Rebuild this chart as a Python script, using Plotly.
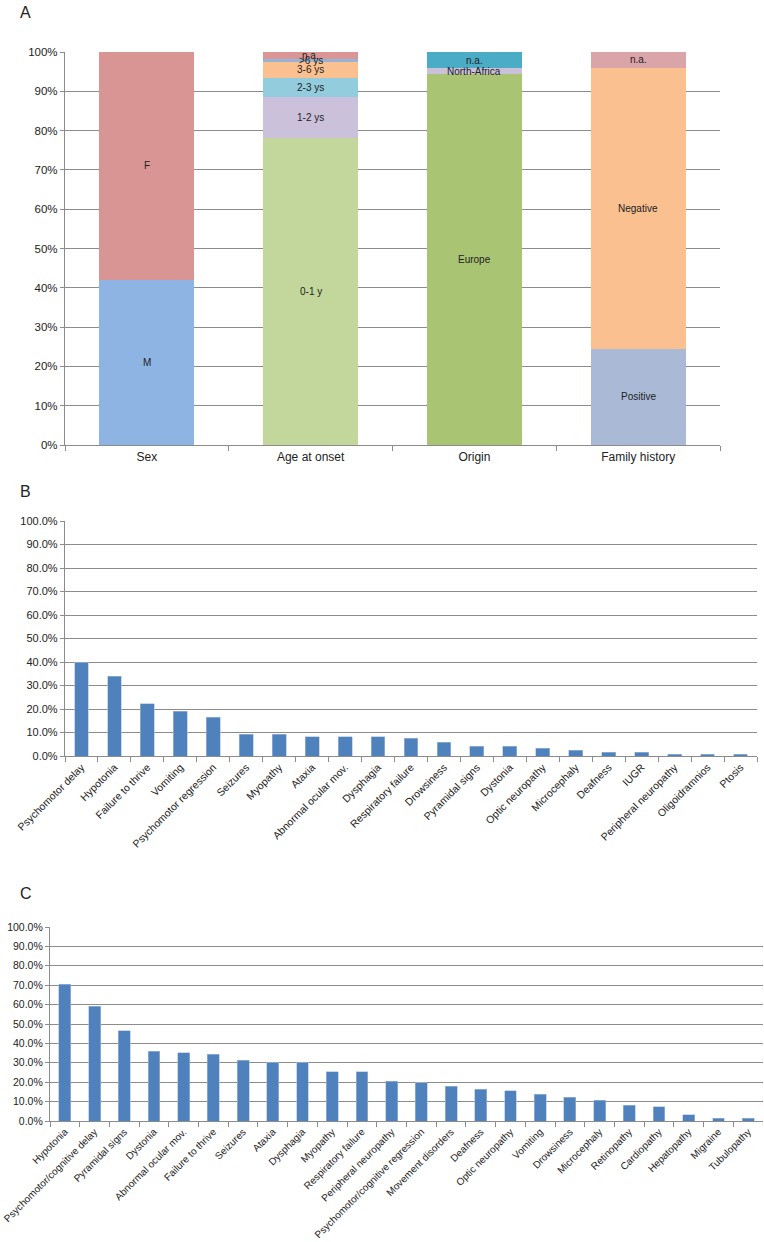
import plotly.graph_objects as go

# ---------- Panel A data (percent) ----------
a_categories = ["Sex", "Age at onset", "Origin", "Family history"]
sex_labels = ["M", "F"]
sex_values = [42.0, 58.0]
age_labels = ["0-1 y", "1-2 ys", "2-3 ys", "3-6 ys", ">6 ys", "n.a."]
age_values = [78.1, 10.4, 4.9, 4.1, 0.8, 1.7]
origin_labels = ["Europe", "North-Africa", "n.a."]
origin_values = [94.3, 1.6, 4.1]
family_labels = ["Positive", "Negative", "n.a."]
family_values = [24.5, 71.5, 4.0]

# ---------- Panel B data (percent) ----------
b_categories = ["Psychomotor delay", "Hypotonia", "Failure to thrive", "Vomiting",
                "Psychomotor regression", "Seizures", "Myopathy", "Ataxia",
                "Abnormal ocular mov.", "Dysphagia", "Respiratory failure", "Drowsiness",
                "Pyramidal signs", "Dystonia", "Optic neuropathy", "Microcephaly",
                "Deafness", "IUGR", "Peripheral neuropathy", "Oligoidramnios", "Ptosis"]
b_values = [39.8, 33.9, 22.3, 19.1, 16.5, 9.2, 9.2, 8.3, 8.3, 8.3, 7.5, 5.8,
            4.1, 4.1, 3.3, 2.5, 1.7, 1.7, 0.8, 0.8, 0.8]

# ---------- Panel C data (percent) ----------
c_categories = ["Hypotonia", "Psychomotor/cognitive delay", "Pyramidal signs", "Dystonia",
                "Abnormal ocular mov.", "Failure to thrive", "Seizures", "Ataxia",
                "Dysphagia", "Myopathy", "Respiratory failure", "Peripheral neuropathy",
                "Psychomotor/cognitive regression", "Movement disorders", "Deafness",
                "Optic neuropathy", "Vomiting", "Drowsiness", "Microcephaly", "Retinopathy",
                "Cardiopathy", "Hepatopathy", "Migraine", "Tubulopathy"]
c_values = [70.5, 59.1, 46.6, 36.0, 35.3, 34.5, 31.2, 30.3, 30.3, 25.5, 25.5, 20.5,
            19.7, 17.9, 16.4, 15.5, 13.8, 12.2, 10.7, 8.1, 7.4, 3.1, 1.4, 1.4]

sex_colors = ["#8EB4E3", "#D99594"]
age_colors = ["#C3D69B", "#CCC1DA", "#93CDDD", "#FAC090", "#95B3D7", "#D99694"]
origin_colors = ["#A9C574", "#CCC1DA", "#4BACC6"]
family_colors = ["#A9B9D6", "#FAC090", "#D9A5A8"]
bar_blue = "#4F81BD"

FONT = "Liberation Sans, Arial, sans-serif"
GRID = "#8C8C8C"
TXT = "#222222"
W, H = 764, 1242

fig = go.Figure()

groups = [
    ("Sex", sex_labels, sex_values, sex_colors),
    ("Age at onset", age_labels, age_values, age_colors),
    ("Origin", origin_labels, origin_values, origin_colors),
    ("Family history", family_labels, family_values, family_colors),
]
for cat, labels, values, colors in groups:
    base = 0.0
    for lab, val, col in zip(labels, values, colors):
        fig.add_trace(go.Bar(
            x=[cat], y=[val], marker_color=col, marker_line_width=0,
            width=0.58, xaxis="x", yaxis="y", showlegend=False, hoverinfo="skip"))
        fig.add_annotation(text=lab, x=cat, y=base + val / 2, xref="x", yref="y",
                           showarrow=False, xanchor="center", yanchor="middle",
                           font=dict(size=10, family=FONT, color=TXT))
        base += val

fig.add_trace(go.Bar(x=b_categories, y=b_values, marker_color=bar_blue,
                     marker_line=dict(color="#A7C0DE", width=0.6),
                     width=0.42, xaxis="x2", yaxis="y2", showlegend=False))
fig.add_trace(go.Bar(x=c_categories, y=c_values, marker_color=bar_blue,
                     marker_line=dict(color="#A7C0DE", width=0.6),
                     width=0.40, xaxis="x3", yaxis="y3", showlegend=False))


def px_x(a, b):
    return [a / W, b / W]


def px_y(top, bottom):
    return [1 - bottom / H, 1 - top / H]


common_x = dict(type="category", showline=True, linecolor=GRID, linewidth=1.3,
                ticks="outside", tickson="boundaries", ticklen=5, tickcolor=GRID,
                showgrid=False, automargin=False)
common_y = dict(showline=True, linecolor=GRID, linewidth=1.3, ticks="outside", ticklen=4,
                tickcolor=GRID, showgrid=True, gridcolor=GRID, gridwidth=1.3,
                zeroline=False, automargin=False)

fig.update_layout(
    width=W, height=H, margin=dict(l=0, r=0, t=0, b=0, autoexpand=False),
    paper_bgcolor="white", plot_bgcolor="white", barmode="stack",
    font=dict(family=FONT, color=TXT),
    xaxis=dict(common_x, domain=px_x(65, 720), anchor="y",
               tickfont=dict(size=12, family=FONT, color=TXT),
               categoryorder="array", categoryarray=a_categories),
    yaxis=dict(common_y, domain=px_y(52, 445), anchor="x", range=[0, 100], dtick=10,
               ticksuffix="%", tickfont=dict(size=11.5, family=FONT, color=TXT)),
    xaxis2=dict(common_x, domain=px_x(65, 757), anchor="y2", tickangle=-45,
                tickfont=dict(size=10.5, family=FONT, color=TXT)),
    yaxis2=dict(common_y, domain=px_y(521, 756), anchor="x2", range=[0, 100], dtick=10,
                tickformat=".1f", ticksuffix="%",
                tickfont=dict(size=11, family=FONT, color=TXT)),
    xaxis3=dict(common_x, domain=px_x(50, 763), anchor="y3", tickangle=-45,
                tickfont=dict(size=10, family=FONT, color=TXT)),
    yaxis3=dict(common_y, domain=px_y(927, 1121), anchor="x3", range=[0, 100], dtick=10,
                tickformat=".1f", ticksuffix="%",
                tickfont=dict(size=10.5, family=FONT, color=TXT)),
)

for letter, ypx in [("A", 12), ("B", 491), ("C", 893)]:
    fig.add_annotation(text=letter, xref="paper", yref="paper", x=18 / W, y=1 - ypx / H,
                       xanchor="left", yanchor="middle", showarrow=False,
                       font=dict(size=16, family=FONT, color=TXT))

fig.write_html("out.html", config={"displayModeBar": False},
               post_script="document.body.style.margin='0';"
                           "document.body.style.padding='0';"
                           "document.body.style.overflow='hidden';")
